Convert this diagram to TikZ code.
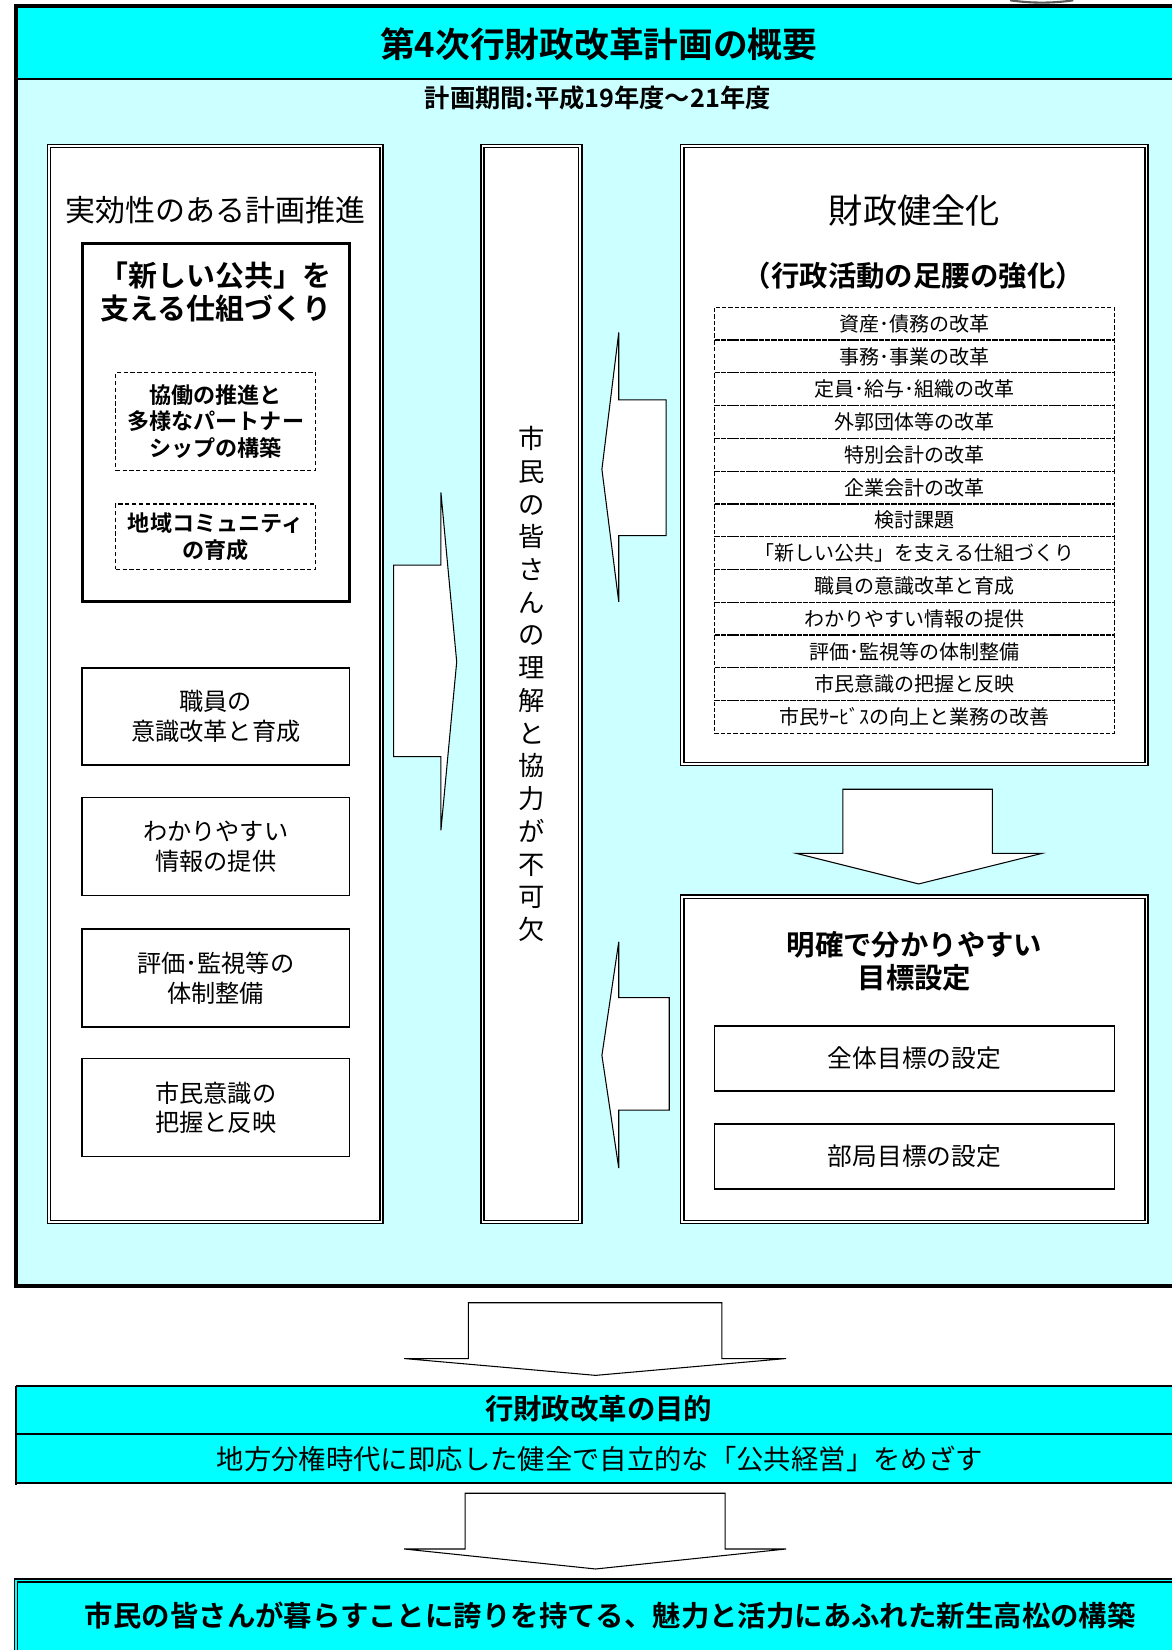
\documentclass[tikz,border=0pt]{standalone}
\usepackage{fontspec}
\setmainfont{Noto Sans CJK JP}[BoldFont={Noto Sans CJK JP Bold}]
\definecolor{cyanA}{RGB}{0,255,255}
\definecolor{cyanL}{RGB}{204,255,255}
\newcommand\fsz[2]{\fontsize{#1}{#2}\selectfont}
\tikzset{
  dblbox/.style={draw=black, line width=1.2pt, double=white, double distance=1.8pt, fill=white, inner sep=0pt},
  plainbox/.style={draw=black, line width=1.5pt, fill=white, inner sep=0pt, align=center},
  thickbox/.style={draw=black, line width=3pt, fill=white, inner sep=0pt},
  dashbox/.style={draw=black, line width=1.4pt, dash pattern=on 4pt off 2.5pt, inner sep=0pt, align=center},
  rowbox/.style={draw=black, line width=1.2pt, dash pattern=on 4pt off 2pt, inner sep=0pt, minimum width=380pt, minimum height=31.15pt, font=\fsz{19}{22}},
  blockarrow/.style={draw=black, fill=white, line width=1pt, line join=miter},
  txt/.style={inner sep=0pt, align=center}
}
\begin{document}
\begin{tikzpicture}[x=1pt,y=-1pt]
\useasboundingbox (0,0) rectangle (1113,1568);
\fill[white] (0,0) rectangle (1113,1568);
% small arc at the top
\draw[line width=2pt, black!65] (960,0.3) .. controls (980,3.2) and (1000,3.2) .. (1020,0.3);
% main frame
\fill[cyanL] (15,6) rectangle (1130,1222);
\fill[cyanA] (15,6) rectangle (1130,75);
\draw[line width=1.8pt] (15,75) -- (1130,75);
\draw[line width=3.5pt] (1130,6) -- (15,6) -- (15,1222) -- (1130,1222);
\node[txt, font=\bfseries\fsz{33}{38}] (title) at (569,42) {第4次行財政改革計画の概要};
\node[txt, font=\bfseries\fsz{24}{28}] (period) at (568,93) {計画期間:平成19年度～21年度};
% left column
\node[dblbox, minimum width=316pt, minimum height=1023pt] (colL) at (204.5,650) {};
\node[txt, font=\fsz{28.5}{32}] (colLt) at (205,200) {実効性のある計画推進};
\node[thickbox, minimum width=254pt, minimum height=341pt] (tb) at (205,401.5) {};
\node[txt, font=\bfseries\fsz{27.5}{31}] (tbt) at (205,277.5) {「新しい公共」を\\支える仕組づくり};
\node[dashbox, minimum width=190pt, minimum height=93pt, font=\bfseries\fsz{21}{25}] (d1) at (205,400.5) {協働の推進と\\多様なパートナー\\シップの構築};
\node[dashbox, minimum width=190pt, minimum height=62pt, font=\bfseries\fsz{21}{25}] (d2) at (205,510) {地域コミュニティ\\の育成};
\node[plainbox, minimum width=254pt, minimum height=92pt, font=\fsz{23}{28}] (b1) at (205,681) {職員の\\意識改革と育成};
\node[plainbox, minimum width=254pt, minimum height=93pt, font=\fsz{23}{28}] (b2) at (205,804.5) {わかりやすい\\情報の提供};
\node[plainbox, minimum width=254pt, minimum height=93pt, font=\fsz{23}{28}] (b3) at (205,929.5) {評価･監視等の\\体制整備};
\node[plainbox, minimum width=254pt, minimum height=93pt, font=\fsz{23}{28}] (b4) at (205,1052.5) {市民意識の\\把握と反映};
% middle column
\node[dblbox, minimum width=93pt, minimum height=1023pt, align=center, font=\fsz{25}{31.1}] (colM) at (505,650)
  {市\\民\\の\\皆\\さ\\ん\\の\\理\\解\\と\\協\\力\\が\\不\\可\\欠};
% right upper
\node[dblbox, minimum width=441pt, minimum height=587.5pt] (colR1) at (869,432.25) {};
\node[txt, font=\fsz{32.5}{36}] (r1t) at (869,200) {財政健全化};
\node[txt, font=\bfseries\fsz{27}{30}] (r1s) at (868,262) {（行政活動の足腰の強化）};
\foreach \t [count=\k from 0] in {資産･債務の改革,事務･事業の改革,定員･給与･組織の改革,外郭団体等の改革,特別会計の改革,企業会計の改革,検討課題,「新しい公共」を支える仕組づくり,職員の意識改革と育成,わかりやすい情報の提供,評価･監視等の体制整備,市民意識の把握と反映,市民ｻｰﾋﾞｽの向上と業務の改善}
  \node[rowbox] (row\k) at (869,{292+31.15*(\k+0.5)}) {\t};
% right lower
\node[dblbox, minimum width=441pt, minimum height=309.5pt] (colR2) at (869,1006.75) {};
\node[txt, font=\bfseries\fsz{27}{31}] (r2t) at (869,913.5) {明確で分かりやすい\\目標設定};
\node[plainbox, minimum width=380pt, minimum height=62pt, font=\fsz{23.5}{27}] (g1) at (869,1006) {全体目標の設定};
\node[plainbox, minimum width=380pt, minimum height=62pt, font=\fsz{23.5}{27}] (g2) at (869,1099) {部局目標の設定};
% block arrows
\draw[blockarrow] (374,537) -- (419,537) -- (419,468) -- (434,629) -- (419,789) -- (419,719) -- (374,719) -- cycle;
\draw[blockarrow] (633,380) -- (588,380) -- (588,316) -- (572,446) -- (588,572) -- (588,509) -- (633,509) -- cycle;
\draw[blockarrow] (636,948) -- (588,948) -- (588,895) -- (572,1003) -- (588,1110) -- (588,1055) -- (636,1055) -- cycle;
\draw[blockarrow] (801,750) -- (943,750) -- (943,811) -- (990,811) -- (873,840) -- (757,811) -- (801,811) -- cycle;
\draw[blockarrow] (445,1238) -- (686,1238) -- (686,1291) -- (747,1291) -- (566,1307) -- (384,1291) -- (445,1291) -- cycle;
\draw[blockarrow] (442,1419) -- (689,1419) -- (689,1472) -- (747,1472) -- (566,1491) -- (384,1472) -- (442,1472) -- cycle;
% purpose box
\fill[cyanA] (15,1317) rectangle (1130,1409);
\draw[line width=2.2pt] (1130,1317) -- (15,1317);
\draw[line width=1.8pt] (15,1363) -- (1130,1363);
\draw[line width=2.2pt] (14,1409) -- (1130,1409);
\draw[line width=1.5pt] (15,1317) -- (15,1411);
\node[txt, font=\bfseries\fsz{27}{30}] (pur) at (569,1339) {行財政改革の目的};
\node[txt, font=\fsz{26}{29}] (purt) at (570,1386) {地方分権時代に即応した健全で自立的な「公共経営」をめざす};
% final box
\fill[cyanA] (13,1500) rectangle (1130,1580);
\draw[line width=1.3pt, double=cyanA, double distance=1.6pt] (1130,1502) -- (15,1502) -- (15,1580);
\node[txt, font=\bfseries\fsz{27}{30}] (fin) at (580,1535) {市民の皆さんが暮らすことに誇りを持てる、魅力と活力にあふれた新生高松の構築};
\end{tikzpicture}
\end{document}
